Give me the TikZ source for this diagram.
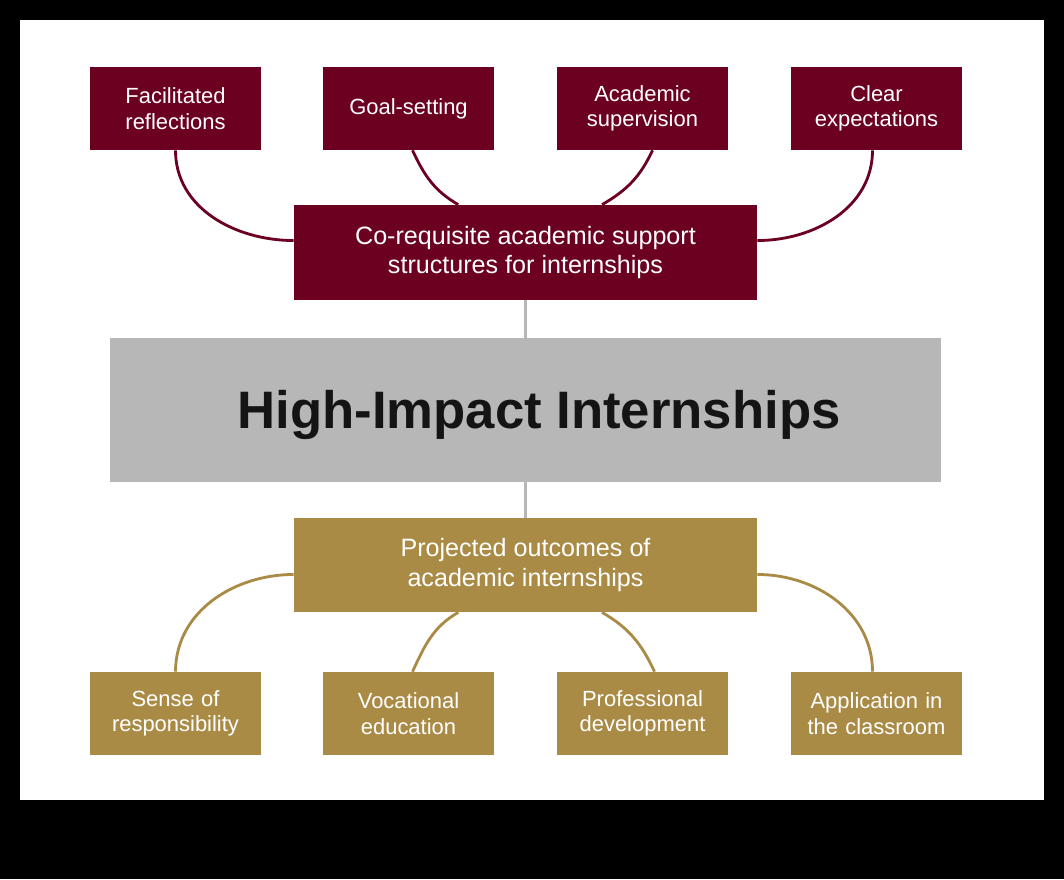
\documentclass[tikz,border=0pt]{standalone}
\usepackage{fontspec}
\setmainfont{Liberation Sans}
\usetikzlibrary{positioning, calc}

\definecolor{corered}{HTML}{6B0021}
\definecolor{outgold}{HTML}{A98B46}
\definecolor{hipgrey}{HTML}{B7B7B7}

\begin{document}
\begin{tikzpicture}[x=0.02cm, y=-0.02cm,
    smallbox/.style={rectangle, minimum width=3.42cm, minimum height=1.66cm, text width=3.2cm,
        align=center, text=white, inner sep=0pt, font=\fontsize{12.5}{14.5}\selectfont},
    topbox/.style={smallbox, fill=corered},
    botbox/.style={smallbox, fill=outgold},
    midbox/.style={rectangle, minimum width=9.26cm, minimum height=1.9cm, align=center,
        text=white, inner sep=0pt, font=\fontsize{14.3}{17}\selectfont},
    link/.style={line width=1.6pt},
    stem/.style={hipgrey, line width=1.4pt}]
    \useasboundingbox (0,0) rectangle (1064,879);
    \fill[black] (0,0) rectangle (1064,879);
    \fill[white] (20,20) rectangle (1044,800);

    \node[midbox, fill=corered] (sup) at (525.5,252.5) {Co-requisite academic support\\structures for internships};
    \node[fill=hipgrey, minimum width=16.62cm, minimum height=2.88cm, inner sep=0pt, text=black!92,
        font=\bfseries\fontsize{30}{36}\selectfont] (hip) at (525.5,410)
        {\hspace*{0.54cm}\raisebox{-0.1cm}[\height][\depth]{High-Impact Internships}};
    \node[midbox, fill=outgold, minimum height=1.88cm] (out) at (525.5,565) {Projected outcomes of\\academic internships};

    \foreach \i/\x/\txt in {1/175.5/{Facilitated\\reflections}, 2/408.5/{Goal-setting},
                            3/642.5/{Academic\\supervision}, 4/876.5/{Clear\\expectations}}
        \node[topbox] (t\i) at (\x,108.5) {\txt};
    \foreach \i/\x/\txt in {1/175.5/{Sense of\\responsibility}, 2/408.5/{Vocational\\education},
                            3/642.5/{Professional\\development}, 4/876.5/{Application in\\the classroom}}
        \node[botbox] (b\i) at (\x,713.5) {\txt};

    \draw[link, corered] (t1.south) to[out=-90, in=180] ($(sup.west)!0.25!(sup.north west)$);
    \draw[link, corered] ($(t2.south)+(4,0)$) to[out=-65, in=150] ($(sup.north west)!0.355!(sup.north east)$);
    \draw[link, corered] ($(t3.south)+(10,0)$) to[out=-115, in=30] ($(sup.north west)!0.665!(sup.north east)$);
    \draw[link, corered] ($(t4.south)+(-4,0)$) to[out=-90, in=0] ($(sup.east)!0.25!(sup.north east)$);

    \draw[link, outgold] (b1.north) to[out=90, in=180] ($(out.west)!0.2!(out.south west)$);
    \draw[link, outgold] ($(b2.north)+(4,0)$) to[out=65, in=-150] ($(out.south west)!0.355!(out.south east)$);
    \draw[link, outgold] ($(b3.north)+(12,0)$) to[out=115, in=-30] ($(out.south west)!0.665!(out.south east)$);
    \draw[link, outgold] ($(b4.north)+(-4,0)$) to[out=90, in=0] ($(out.east)!0.2!(out.south east)$);

    \draw[stem] (sup.south) -- (hip.north);
    \draw[stem] (hip.south) -- (out.north);
\end{tikzpicture}
\end{document}
